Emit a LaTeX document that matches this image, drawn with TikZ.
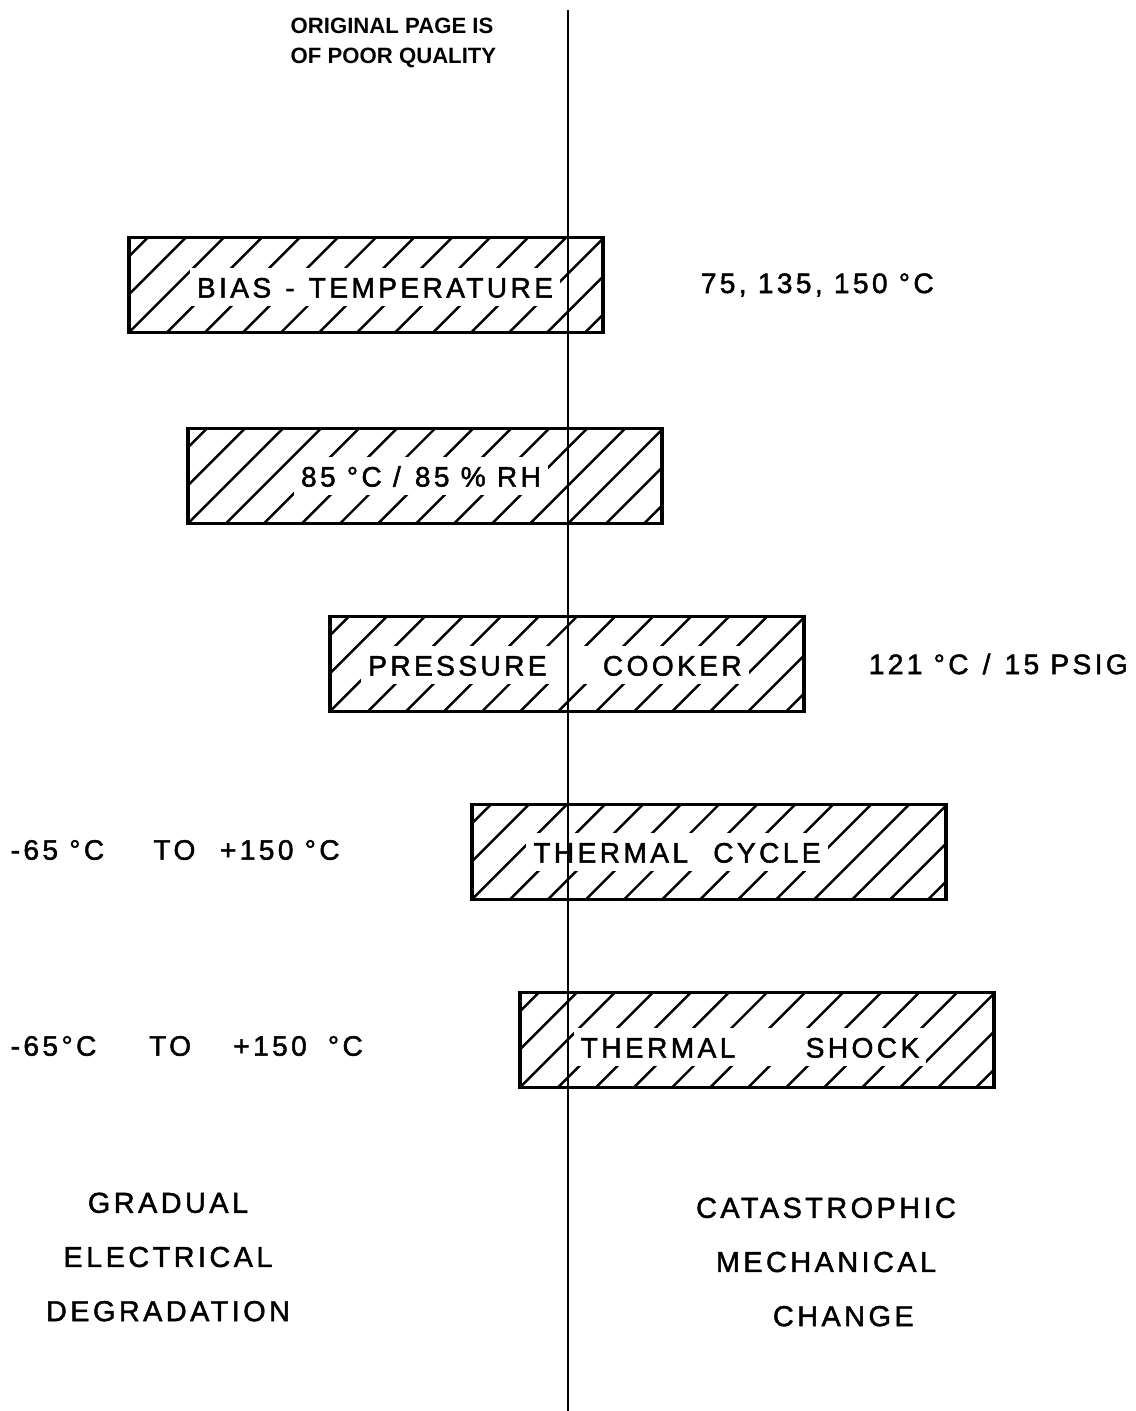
\documentclass[tikz,border=0pt]{standalone}
\usepackage{fontspec}
\setmainfont{Liberation Sans}
\newfontfamily\lettering[LetterSpace=12,FakeBold=1.6]{Liberation Sans}
\usetikzlibrary{positioning}

\begin{document}
\begin{tikzpicture}[
  x=0.01cm, y=-0.01cm,
  node distance=1cm,
  testbox/.style={rectangle, draw, line width=1.1pt, minimum width=4.74cm,
    minimum height=0.95cm, inner sep=0pt,
    path picture={\foreach \i in {-4,...,14}
      \draw[line width=0.7pt] ([xshift=\i*0.38cm]path picture bounding box.south west)
        -- ++(1.2cm,1.2cm);}},
  boxtext/.style={fill=white, inner xsep=2pt, inner ysep=2.5pt,
    text height=6pt, text depth=0pt, font=\lettering\fontsize{8}{9}\selectfont},
  cond/.style={inner sep=0pt, font=\lettering\fontsize{8}{9}\selectfont},
  side/.style={inner sep=0pt, align=center, font=\lettering\fontsize{8.2}{15.4}\selectfont},
  divider/.style={line width=0.75pt},
]
  \useasboundingbox (0,0) rectangle (1136,1411);

  % stamp
  \node[inner sep=0pt, anchor=north west, align=left,
    font=\bfseries\fontsize{6.3}{8.6}\selectfont] (stamp) at (290,17)
    {ORIGINAL PAGE IS\\OF POOR QUALITY};

  % test boxes
  \node[testbox] (bias) at (366,285) {};
  \node[testbox] (humid) at (425,476) {};
  \node[testbox] (cooker) at (567,664) {};
  \node[testbox] (cycle) at (709,852) {};
  \node[testbox] (shock) at (757,1040) {};

  \node[boxtext] (bias-t) at (375,287) {BIAS\enspace -\enspace TEMPERATURE};
  \node[boxtext] (humid-t) at (421,476) {85 °C /\enspace 85 \% RH};
  \node[boxtext] (cooker-t) at (555,665) {PRESSURE\qquad COOKER};
  \node[boxtext] (cycle-t) at (677,852) {THERMAL\enspace\ CYCLE};
  \node[boxtext] (shock-t) at (750,1047) {THERMAL\qquad\enspace SHOCK};

  % conditions
  \node[cond, right=0.95cm of bias] (biastemp) {75, 135, 150 °C};
  \node[cond, right=0.62cm of cooker] (cookertemp) {121 °C\enspace /\enspace 15 PSIG};
  \node[cond, anchor=west] (cycletemp) at (10,850)
    {-65 °C\hspace{14pt}TO\hspace{7pt}+150 °C};
  \node[cond, anchor=west] (shocktemp) at (10,1046)
    {-65°C\hspace{15pt}TO\hspace{12pt}+150\hspace{6pt}°C};

  % failure kinds
  \node[side] (gradual) at (168,1257) {GRADUAL\\ELECTRICAL\\DEGRADATION};
  \node[side] (catastrophic) at (826,1262) {CATASTROPHIC\\MECHANICAL\\\hspace{1.2em}CHANGE};

  % divider
  \coordinate (divtop) at (568,10);
  \coordinate (divbot) at (568,1411);
  \draw[divider] (divtop) -- (divbot);
\end{tikzpicture}
\end{document}
